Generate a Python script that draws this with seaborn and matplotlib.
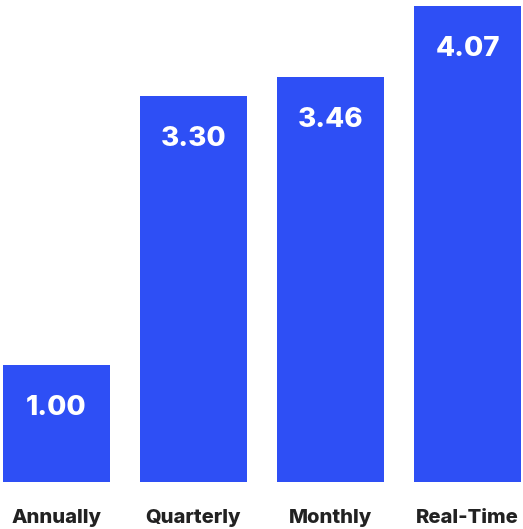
import matplotlib
matplotlib.use("Agg")
import matplotlib.pyplot as plt
import seaborn as sns
import pandas as pd

categories = ["Annually", "Quarterly", "Monthly", "Real-Time"]
values = [1.00, 3.30, 3.46, 4.07]
value_labels = ["1.00", "3.30", "3.46", "4.07"]

sns.set_style("white")
plt.rcParams['font.family'] = ['Inter', 'DejaVu Sans']

df = pd.DataFrame({"cat": categories, "val": values})

fig = plt.figure(figsize=(5.23, 5.29), dpi=100)
ax = fig.add_axes([0, 47/529, 1, 482/529])
sns.barplot(data=df, x="cat", y="val", color="#2E4FF5", saturation=1, width=0.78,
            linewidth=0, ax=ax)
ax.set_xlim(-0.412, 3.405)
ax.set_ylim(0, 482/117)
ax.axis("off")

for i, (v, lab) in enumerate(zip(values, value_labels)):
    ax.annotate(lab, (i, v), xytext=(0, -43*0.72), textcoords="offset points",
                ha="center", va="center", color="white", fontsize=20, fontweight="heavy")
for i, c in enumerate(categories):
    ax.annotate(c, (i, 0), xytext=(0, -36*0.72), textcoords="offset points",
                ha="center", va="center", color="#222222", fontsize=14.5, fontweight="heavy",
                annotation_clip=False)

fig.savefig("out.png", dpi=100)
